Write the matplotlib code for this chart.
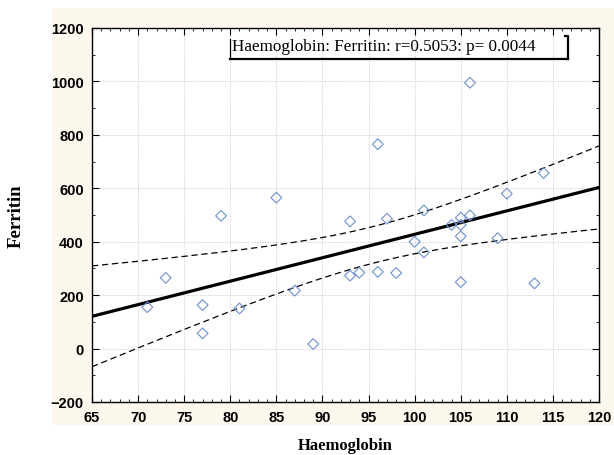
import numpy as np
import matplotlib
matplotlib.use('Agg')
import matplotlib.pyplot as plt
from matplotlib.patches import Rectangle
from matplotlib.ticker import MultipleLocator

# Haemoglobin vs ferritin values
haemoglobin = [71, 73, 77, 77, 79, 81, 85, 87, 89,
               93, 93, 94, 96, 96, 97, 98, 100, 101, 101,
               104, 105, 105, 105, 105, 106, 106, 109, 110, 113, 114]
ferritin = [155, 265, 163, 57, 497, 150, 565, 217, 17,
            476, 273, 284, 765, 287, 486, 283, 400, 517, 360,
            463, 490, 463, 420, 249, 499, 995, 413, 580, 244, 657]
note = 'Haemoglobin: Ferritin: r=0.5053: p= 0.0044'
t_crit = 2.0484  # t(0.975, df=28)

x = np.array(haemoglobin, dtype=float)
y = np.array(ferritin, dtype=float)
n = len(x)

# least squares line and 95% confidence band for the mean
slope, intercept = np.polyfit(x, y, 1)
resid = y - (intercept + slope * x)
s = np.sqrt(np.sum(resid ** 2) / (n - 2))
sxx = np.sum((x - x.mean()) ** 2)
xs = np.linspace(65, 120, 200)
fit = intercept + slope * xs
half = t_crit * s * np.sqrt(1.0 / n + (xs - x.mean()) ** 2 / sxx)

fig = plt.figure(figsize=(6.14, 4.56), dpi=100)
fig.patch.set_facecolor('white')
bg = Rectangle((52 / 614, 30 / 456), 1 - 52 / 614, 417 / 456,
               transform=fig.transFigure, facecolor='#fcf8ee',
               edgecolor='none', zorder=-10)
fig.patches.append(bg)

ax = fig.add_axes([92 / 614, 53 / 456, 507 / 614, 374 / 456])
ax.set_zorder(1)
ax.set_facecolor('white')

ax.plot(xs, fit, color='black', lw=2.3, zorder=3)
ax.plot(xs, fit + half, color='black', lw=0.9, dashes=(5, 3), zorder=3)
ax.plot(xs, fit - half, color='black', lw=0.9, dashes=(5, 3), zorder=3)
ax.scatter(x, y, marker='D', s=30, facecolors='none', edgecolors='#6f8fd2',
           linewidths=0.8, zorder=4)

ax.set_xlim(65, 120)
ax.set_ylim(-200, 1200)
ax.xaxis.set_major_locator(MultipleLocator(5))
ax.xaxis.set_minor_locator(MultipleLocator(1))
ax.yaxis.set_major_locator(MultipleLocator(200))
ax.yaxis.set_minor_locator(MultipleLocator(100))
ax.tick_params(which='both', direction='in', top=True, right=True, color='black')
ax.tick_params(which='major', length=5, width=0.8, pad=6)
ax.tick_params(which='minor', length=2.5, width=0.6)
ax.grid(True, which='major', color='#cccccc', linestyle=(0, (1.5, 1.5)), lw=0.6)
ax.set_axisbelow(True)
for sp in ax.spines.values():
    sp.set_linewidth(1.0)

for lab in ax.get_xticklabels() + ax.get_yticklabels():
    lab.set_fontfamily('Liberation Sans')
    lab.set_fontweight('bold')
    lab.set_fontsize(10.5)

ax.set_xlabel('Haemoglobin', family='Liberation Serif', weight='bold', fontsize=12)
ax.set_ylabel('Ferritin', family='Liberation Serif', weight='bold', fontsize=13.5)
ax.xaxis.set_label_coords(0.5, -0.094)
ax.yaxis.set_label_coords(-0.132, 0.5)

# annotation box with heavier bottom/right edge
ax.text(0.276, 0.951, note, transform=ax.transAxes, family='Liberation Serif',
        fontsize=12.3, va='center', ha='left', zorder=6)
ax.plot([0.272, 0.272], [0.917, 0.971], transform=ax.transAxes, color='black',
        lw=0.9, clip_on=False, zorder=6)
ax.plot([0.272, 0.939], [0.917, 0.917], transform=ax.transAxes, color='black',
        lw=1.6, clip_on=False, zorder=6)
ax.plot([0.933, 0.939, 0.939], [0.979, 0.979, 0.917], transform=ax.transAxes,
        color='black', lw=1.6, clip_on=False, zorder=6)

plt.savefig('out.png', dpi=100, facecolor=fig.get_facecolor())
